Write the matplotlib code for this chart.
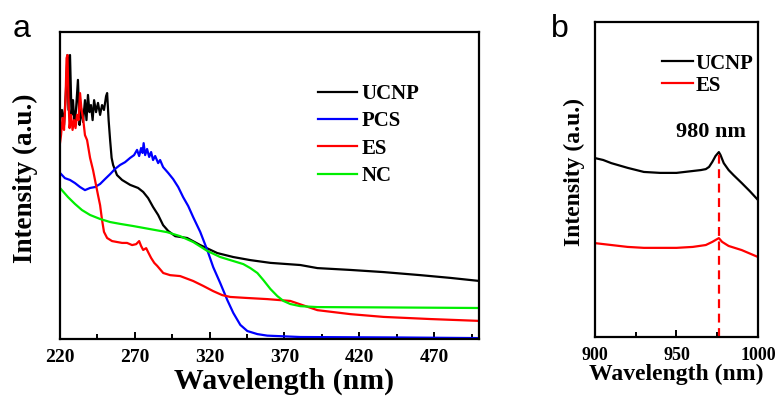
# -*- coding: utf-8 -*-
## UV-vis absorption (a) and NIR absorption (b) spectra
import matplotlib.pyplot as plt

# (a) absorption spectra, wavelength in nm, intensity in a.u.
ucnp_wl = [220, 221.3, 222.7, 224.0, 225.0, 225.7, 226.7, 227.7, 228.7, 229.7, 230.7, 232.0,
           233.1, 234.1, 235.4, 236.7, 237.7, 238.7, 239.7, 240.7, 241.8, 242.8, 244.1, 245.4,
           246.8, 248.1, 249.4, 250.8, 251.5, 252.5, 253.5, 254.5, 255.5, 258.1, 261.5, 266.9,
           272.2, 275.6, 278.9, 282.2, 285.6, 288.9, 292.3, 297.0, 305.0, 313.7, 325.1, 335.8,
           347.2, 360.6, 380.6, 392.0, 414.1, 436.2, 460.9, 481.0, 500.4]
ucnp_int = [71.3, 74.6, 69.7, 81.1, 92.5, 74.6, 92.5, 73.0, 77.8, 69.7, 74.6, 84.4,
            69.7, 75.2, 70.7, 77.8, 71.3, 79.5, 73.9, 76.2, 71.3, 77.8, 73.9, 76.9,
            73.0, 76.2, 74.6, 79.1, 80.1, 71.3, 64.8, 59.0, 56.7, 53.4, 51.8, 50.2,
            49.2, 47.9, 45.9, 43.0, 40.4, 37.1, 35.2, 33.5, 32.9, 30.6, 28.0, 26.7,
            25.7, 24.8, 24.1, 23.1, 22.5, 21.8, 20.8, 19.9, 18.9]

pcs_wl = [220, 223.3, 226.7, 230.0, 233.4, 236.7, 240.1, 243.4, 246.8, 250.1, 253.5, 256.8,
          260.2, 263.5, 266.9, 269.5, 271.5, 272.9, 274.2, 275.2, 275.9, 276.9, 278.2, 279.6,
          280.9, 282.2, 283.6, 285.6, 286.9, 288.9, 292.3, 295.6, 299.0, 302.3, 305.7, 309.0,
          313.7, 318.4, 322.4, 327.1, 331.8, 335.8, 340.5, 345.2, 351.9, 358.5, 380.6, 447.6,
          500.4]
pcs_int = [54.1, 52.4, 51.8, 50.8, 49.5, 48.5, 49.2, 49.5, 50.5, 52.1, 53.7, 55.4,
           56.7, 57.6, 59.0, 59.9, 61.6, 59.6, 62.2, 60.6, 63.8, 59.9, 61.9, 59.3,
           60.9, 58.3, 59.6, 57.3, 58.3, 56.0, 54.1, 52.1, 49.5, 46.2, 43.3, 39.7,
           34.9, 29.0, 23.4, 18.2, 12.7, 8.5, 4.6, 2.6, 1.6, 1.1, 0.65, 0.5,
           0.3]

es_wl = [220, 220.7, 221.7, 222.7, 223.7, 224.4, 225.0, 225.7, 226.4, 227.4, 228.4, 229.4,
         230.4, 231.4, 232.4, 233.4, 234.4, 235.4, 236.7, 238.1, 240.1, 242.1, 243.4, 245.4,
         246.8, 248.1, 249.4, 251.5, 254.8, 258.1, 261.5, 264.8, 268.2, 270.9, 272.9, 274.2,
         275.6, 277.6, 278.9, 280.9, 283.0, 285.0, 289.0, 293.6, 300.3, 309.0, 315.7, 322.4,
         328.4, 333.8, 343.8, 358.5, 373.9, 392.0, 414.1, 436.2, 467.7, 500.4]
es_int = [63.8, 66.4, 72.0, 68.1, 77.8, 91.5, 92.5, 77.8, 68.7, 73.0, 68.1, 71.3,
          68.7, 73.0, 71.3, 80.1, 74.6, 72.0, 66.4, 64.8, 59.0, 55.0, 51.8, 46.9,
          43.6, 38.8, 34.9, 32.9, 31.9, 31.6, 31.3, 31.3, 30.6, 30.9, 31.9, 30.3,
          29.0, 29.6, 28.3, 26.4, 24.8, 23.8, 21.5, 20.8, 20.5, 18.9, 17.3, 15.6,
          14.3, 13.7, 13.4, 13.0, 12.4, 9.4, 8.1, 7.2, 6.5, 5.9]

nc_wl = [220, 225.4, 230.0, 234.7, 240.1, 246.8, 253.5, 260.2, 268.9, 280.2, 291.6, 300.3,
         309.0, 318.4, 327.1, 335.8, 342.5, 347.2, 351.9, 355.9, 360.6, 365.2, 369.3, 373.9,
         380.6, 392.0, 434.2, 500.4]
nc_int = [49.2, 46.2, 44.0, 42.0, 40.4, 39.1, 38.1, 37.5, 36.8, 35.8, 34.8, 33.5,
          31.6, 28.7, 26.7, 25.4, 24.4, 23.1, 21.5, 19.2, 16.3, 14.0, 12.4, 11.4,
          10.7, 10.4, 10.3, 10.1]

# (b) NIR region
nir_wl = [900, 905, 910, 920, 930, 940, 950, 960, 965, 968, 970, 972, 974, 976, 977, 979,
          982, 985, 990, 995, 1000]
ucnp_nir = [56.8, 56.2, 55.2, 53.7, 52.4, 52.1, 52.1, 52.7, 53.0, 53.3, 54.0, 55.6, 57.5,
            58.7, 57.8, 55.2, 53.0, 51.4, 48.9, 46.3, 43.5]
es_nir_wl = [900, 910, 920, 930, 940, 950, 960, 968, 972, 976, 978, 982, 990, 1000]
es_nir = [29.8, 29.2, 28.6, 28.3, 28.3, 28.3, 28.6, 29.2, 30.2, 31.4, 30.2, 28.9, 27.6, 25.4]
peak_wl = 976
peak_int = 58.7

serif = "Liberation Serif"
plt.rcParams["font.family"] = serif
plt.rcParams["font.weight"] = "bold"

fig = plt.figure(figsize=(7.79, 3.96), dpi=100)
ax1 = fig.add_axes([0.0770, 0.1439, 0.5379, 0.7753])
ax2 = fig.add_axes([0.7638, 0.1490, 0.2092, 0.7954])

lw = 1.6
ax1.plot(ucnp_wl, ucnp_int, color="black", lw=lw, label="UCNP")
ax1.plot(pcs_wl, pcs_int, color="#0000ff", lw=lw, label="PCS")
ax1.plot(es_wl, es_int, color="#ff0000", lw=lw, label="ES")
ax1.plot(nc_wl, nc_int, color="#00ee00", lw=lw, label="NC")
ax1.set_xlim(220, 500)
ax1.set_ylim(0, 100)
ax1.set_xticks([220, 270, 320, 370, 420, 470])
ax1.set_xticks([245, 295, 345, 395, 445, 495], minor=True)

ax2.plot(nir_wl, ucnp_nir, color="black", lw=lw, label="UCNP")
ax2.plot(es_nir_wl, es_nir, color="#ff0000", lw=lw, label="ES")
ax2.plot([peak_wl, peak_wl], [0, peak_int], color="#ff0000", lw=1.6, ls=(0, (4, 2.5)))
ax2.text(971, 65, "980 nm", ha="center", va="center", fontsize=16, fontweight="bold")
ax2.set_xlim(900, 1000)
ax2.set_ylim(0, 100)
ax2.set_xticks([900, 950, 1000])
ax2.set_xticks([925, 975], minor=True)

for ax, tsize in ((ax1, 14), (ax2, 13)):
    for s in ax.spines.values():
        s.set_linewidth(1.6)
    ax.set_yticks([])
    ax.tick_params(axis="x", which="major", direction="in", length=5, width=1.4,
                   pad=7, labelsize=tsize)
    ax.tick_params(axis="x", which="minor", direction="in", length=3.5, width=1.4)

ax1.set_xlabel("Wavelength (nm)", fontsize=21.5, fontweight="bold")
ax1.xaxis.set_label_coords(0.535, -0.137)
ax1.xaxis.label.set_va("center")
ax1.set_ylabel("Intensity (a.u.)", fontsize=19.5, fontweight="bold")
ax1.yaxis.set_label_coords(-0.0835, 0.524)
ax1.yaxis.label.set_va("center")

ax2.set_xlabel("Wavelength (nm)", fontsize=17, fontweight="bold")
ax2.xaxis.set_label_coords(0.5, -0.12)
ax2.xaxis.label.set_va("center")
ax2.set_ylabel("Intensity (a.u.)", fontsize=17, fontweight="bold")
ax2.yaxis.set_label_coords(-0.129, 0.524)
ax2.yaxis.label.set_va("center")

ax1.legend(loc="upper left", bbox_to_anchor=(0.616, 0.83), frameon=False, fontsize=15,
           handlelength=1.87, handletextpad=0.2, labelspacing=0.35, borderpad=0,
           borderaxespad=0)
ax2.legend(loc="upper left", bbox_to_anchor=(0.411, 0.9), frameon=False, fontsize=15,
           handlelength=1.5, handletextpad=0.1, labelspacing=0.1, borderpad=0,
           borderaxespad=0)

fig.text(13 / 779, 1 - 37 / 396, "a", fontsize=23, family="Liberation Sans",
         fontweight="normal", va="baseline")
fig.text(551 / 779, 1 - 37 / 396, "b", fontsize=23, family="Liberation Sans",
         fontweight="normal", va="baseline")

fig.savefig("out.png", dpi=100)
